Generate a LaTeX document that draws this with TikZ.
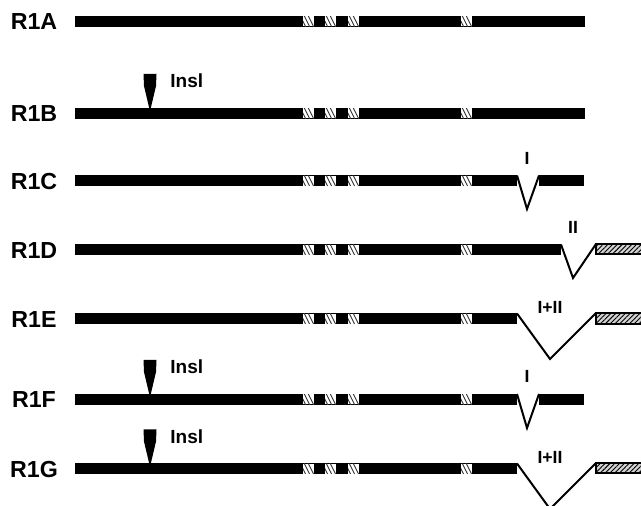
\documentclass[tikz,border=0pt]{standalone}
\usepackage{fontspec}
\setmainfont{Liberation Sans}
\usetikzlibrary{patterns.meta}

\tikzstyle{rowlabel}=[anchor=center,inner sep=0pt,font=\bfseries\fontsize{11.6}{13}\selectfont]
\tikzstyle{inslabel}=[anchor=west,inner sep=0pt,font=\bfseries\fontsize{9.5}{11}\selectfont]
\tikzstyle{dellabel}=[anchor=center,inner sep=0pt,font=\bfseries\fontsize{8.8}{10}\selectfont]
\tikzstyle{splice}=[line width=1pt,line join=miter]
\tikzstyle{tail}=[draw=black,line width=0.6pt,fill=gray!35,
  postaction={pattern={Lines[angle=45,distance=1.7pt,line width=0.45pt]}}]

% black bar from x=75 to #2, centred on y=#1
\newcommand{\genebar}[2]{\fill (75,#1-5.5) rectangle (#2,#1+5.5);}
% white repeat box with three strokes
\newcommand{\motif}[2]{%
  \fill[white] (#1,#2-5) rectangle ++(11,10);
  \begin{scope}
    \clip (#1,#2-5) rectangle ++(11,10);
    \foreach \d in {-1,3,7}
      \draw[line width=0.45pt,black!80] (#1+\d-2,#2-6) -- ++(6,12);
  \end{scope}}
\newcommand{\motifs}[1]{\foreach \mx in {303,325,348,461} {\motif{\mx}{#1}}}
% insertion marker, tip on the bar top
\newcommand{\insl}[3]{%
  \fill (#1-6.5,#2-34) -- (#1+6.5,#2-34) -- (#1+6,#2-22) -- (#1+0.8,#2) -- (#1-0.8,#2) -- (#1-6,#2-22) -- cycle;
  \node[inslabel] (#3) at (#1+20,#2-27) {Insl};}

\begin{document}
\begin{tikzpicture}[x=0.5pt,y=-0.5pt]
  \useasboundingbox (0,0) rectangle (641,506);
  \clip (0,0) rectangle (641,506);

  % R1A
  \node[rowlabel] (la) at (34,22) {R1A};
  \genebar{21.5}{585}
  \motifs{21.5}

  % R1B
  \node[rowlabel] (lb) at (34,114) {R1B};
  \genebar{113.5}{585}
  \motifs{113.5}
  \insl{150}{108}{insb}

  % R1C, deletion I
  \node[rowlabel] (lc) at (34,182) {R1C};
  \genebar{181}{517}
  \fill (539,175.5) rectangle (584,186.5);
  \motifs{181}
  \coordinate (c1) at (517,175.5);
  \coordinate (c2) at (539,175.5);
  \draw[splice] (c1) -- (527,209) -- (c2);
  \node[dellabel] (dc) at (527,158) {I};

  % R1D, deletion II
  \node[rowlabel] (ld) at (34,251) {R1D};
  \genebar{250}{561}
  \motifs{250}
  \draw[tail] (596,244) rectangle (645,254);
  \coordinate (d1) at (561,244.5);
  \coordinate (d2) at (596,244);
  \draw[splice] (d1) -- (573,278) -- (d2);
  \node[dellabel] (dd) at (573,227) {II};

  % R1E, deletion I+II
  \node[rowlabel] (le) at (34,320) {R1E};
  \genebar{319}{517}
  \motifs{319}
  \draw[tail] (596,313) rectangle (645,324);
  \coordinate (e1) at (517,313.5);
  \coordinate (e2) at (596,313);
  \draw[splice] (e1) -- (550,359) -- (e2);
  \node[dellabel] (de) at (550,307) {I+II};

  % R1F
  \node[rowlabel] (lf) at (34,400) {R1F};
  \genebar{399.5}{517}
  \fill (539,394) rectangle (584,405);
  \motifs{399.5}
  \insl{150}{394}{insf}
  \coordinate (f1) at (517,394);
  \coordinate (f2) at (539,394);
  \draw[splice] (f1) -- (527,428) -- (f2);
  \node[dellabel] (df) at (527,376) {I};

  % R1G
  \node[rowlabel] (lg) at (34,470) {R1G};
  \genebar{469}{517}
  \motifs{469}
  \insl{150}{463.5}{insg}
  \draw[tail] (596,463) rectangle (645,473);
  \coordinate (g1) at (517,463.5);
  \coordinate (g2) at (596,463);
  \draw[splice] (g1) -- (550,509) -- (g2);
  \node[dellabel] (dg) at (550,457) {I+II};
\end{tikzpicture}
\end{document}
